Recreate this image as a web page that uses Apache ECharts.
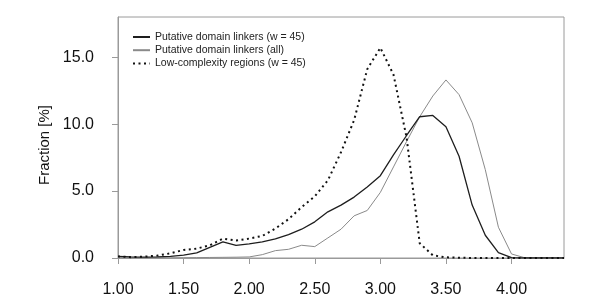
<!DOCTYPE html>
<html>
<head>
<meta charset="utf-8">
<script src="https://cdn.jsdelivr.net/npm/echarts@6/dist/echarts.min.js"></script>
<style>
html,body{margin:0;padding:0;background:#fff;}
#c{width:600px;height:306px;}
</style>
</head>
<body>
<div id="c"></div>
<script>
const xValues = [1.0,1.1,1.2,1.3,1.4,1.5,1.6,1.7,1.8,1.9,2.0,2.1,2.2,2.3,2.4,2.5,2.6,2.7,2.8,2.9,3.0,3.1,3.2,3.3,3.4,3.5,3.6,3.7,3.8,3.9,4.0,4.1,4.2,4.3,4.4];
const linkersW45 = [0.12,0.08,0.07,0.08,0.12,0.22,0.38,0.8,1.2,0.95,1.05,1.2,1.42,1.75,2.15,2.7,3.45,3.95,4.55,5.3,6.15,7.7,9.15,10.55,10.65,9.8,7.6,3.95,1.7,0.4,0.03,0,0,0,0];
const linkersAll = [0.02,0.01,0.01,0.01,0.01,0.02,0.03,0.04,0.05,0.06,0.08,0.25,0.55,0.65,0.95,0.85,1.5,2.15,3.15,3.55,4.9,6.8,8.7,10.55,12.1,13.3,12.2,10.1,6.6,2.3,0.3,0.02,0,0,0];
const lowComplexity = [0.12,0.06,0.1,0.18,0.35,0.6,0.7,0.95,1.45,1.3,1.45,1.65,2.2,2.9,3.8,4.6,5.8,7.9,10.3,14.1,15.7,13.7,9.0,1.1,0.2,0.05,0.02,0,0,0,0,0,0,0,0];
const seriesNames = ['Putative domain linkers (w = 45)','Putative domain linkers (all)','Low-complexity regions (w = 45)'];
const yAxisTitle = 'Fraction [%]';
const xTicks = [1.0,1.5,2.0,2.5,3.0,3.5,4.0];
const yTicks = [0,5,10,15];

function pairs(ys){ return xValues.map((x,i)=>[x, ys[i]]); }

const chart = echarts.init(document.getElementById('c'), null, {renderer:'canvas'});
const axisGrey = '#9a9a9a';
chart.setOption({
  animation:false,
  backgroundColor:'#ffffff',
  grid:{left:118, right:36, top:17, bottom:48, show:true, borderColor:axisGrey, borderWidth:1},
  graphic:[{
    type:'text', x:45, y:145, rotation:Math.PI/2,
    style:{text:yAxisTitle, fontFamily:'Liberation Sans', fontSize:15, fill:'#111', align:'center', verticalAlign:'middle'}
  }],
  legend:{
    orient:'vertical', left:132, top:31.5, padding:0,
    itemWidth:17, itemHeight:11, itemGap:2.2,
    itemStyle:{opacity:0},
    textStyle:{fontFamily:'Liberation Sans', fontSize:10.5, color:'#222'},
    data:seriesNames
  },
  xAxis:{
    type:'value', min:1.0, max:4.4,
    axisLine:{show:true, lineStyle:{color:axisGrey, width:1}},
    axisTick:{show:true, length:6, customValues:xTicks, lineStyle:{color:axisGrey}},
    axisLabel:{customValues:xTicks, margin:24, fontFamily:'Liberation Sans', fontSize:16, color:'#111',
      formatter:v=>v.toFixed(2)},
    splitLine:{show:false}
  },
  yAxis:{
    type:'value', min:0, max:18,
    axisLine:{show:true, lineStyle:{color:axisGrey, width:1}},
    axisTick:{show:true, length:6, customValues:yTicks, lineStyle:{color:axisGrey}},
    axisLabel:{customValues:yTicks, margin:24, fontFamily:'Liberation Sans', fontSize:16, color:'#111',
      formatter:v=>v.toFixed(1)},
    splitLine:{show:false}
  },
  series:[
    {name:seriesNames[0], type:'line', data:pairs(linkersW45), symbol:'none', z:3,
      lineStyle:{color:'#1e1e1e', width:1.3}, itemStyle:{color:'#1e1e1e'}},
    {name:seriesNames[1], type:'line', data:pairs(linkersAll), symbol:'none', z:2,
      lineStyle:{color:'#8a8a8a', width:1}, itemStyle:{color:'#8a8a8a'}},
    {name:seriesNames[2], type:'line', data:pairs(lowComplexity), symbol:'none', z:4,
      lineStyle:{color:'#111', width:2, type:[2,3.5]}, itemStyle:{color:'#111'}}
  ]
});
</script>
</body>
</html>
